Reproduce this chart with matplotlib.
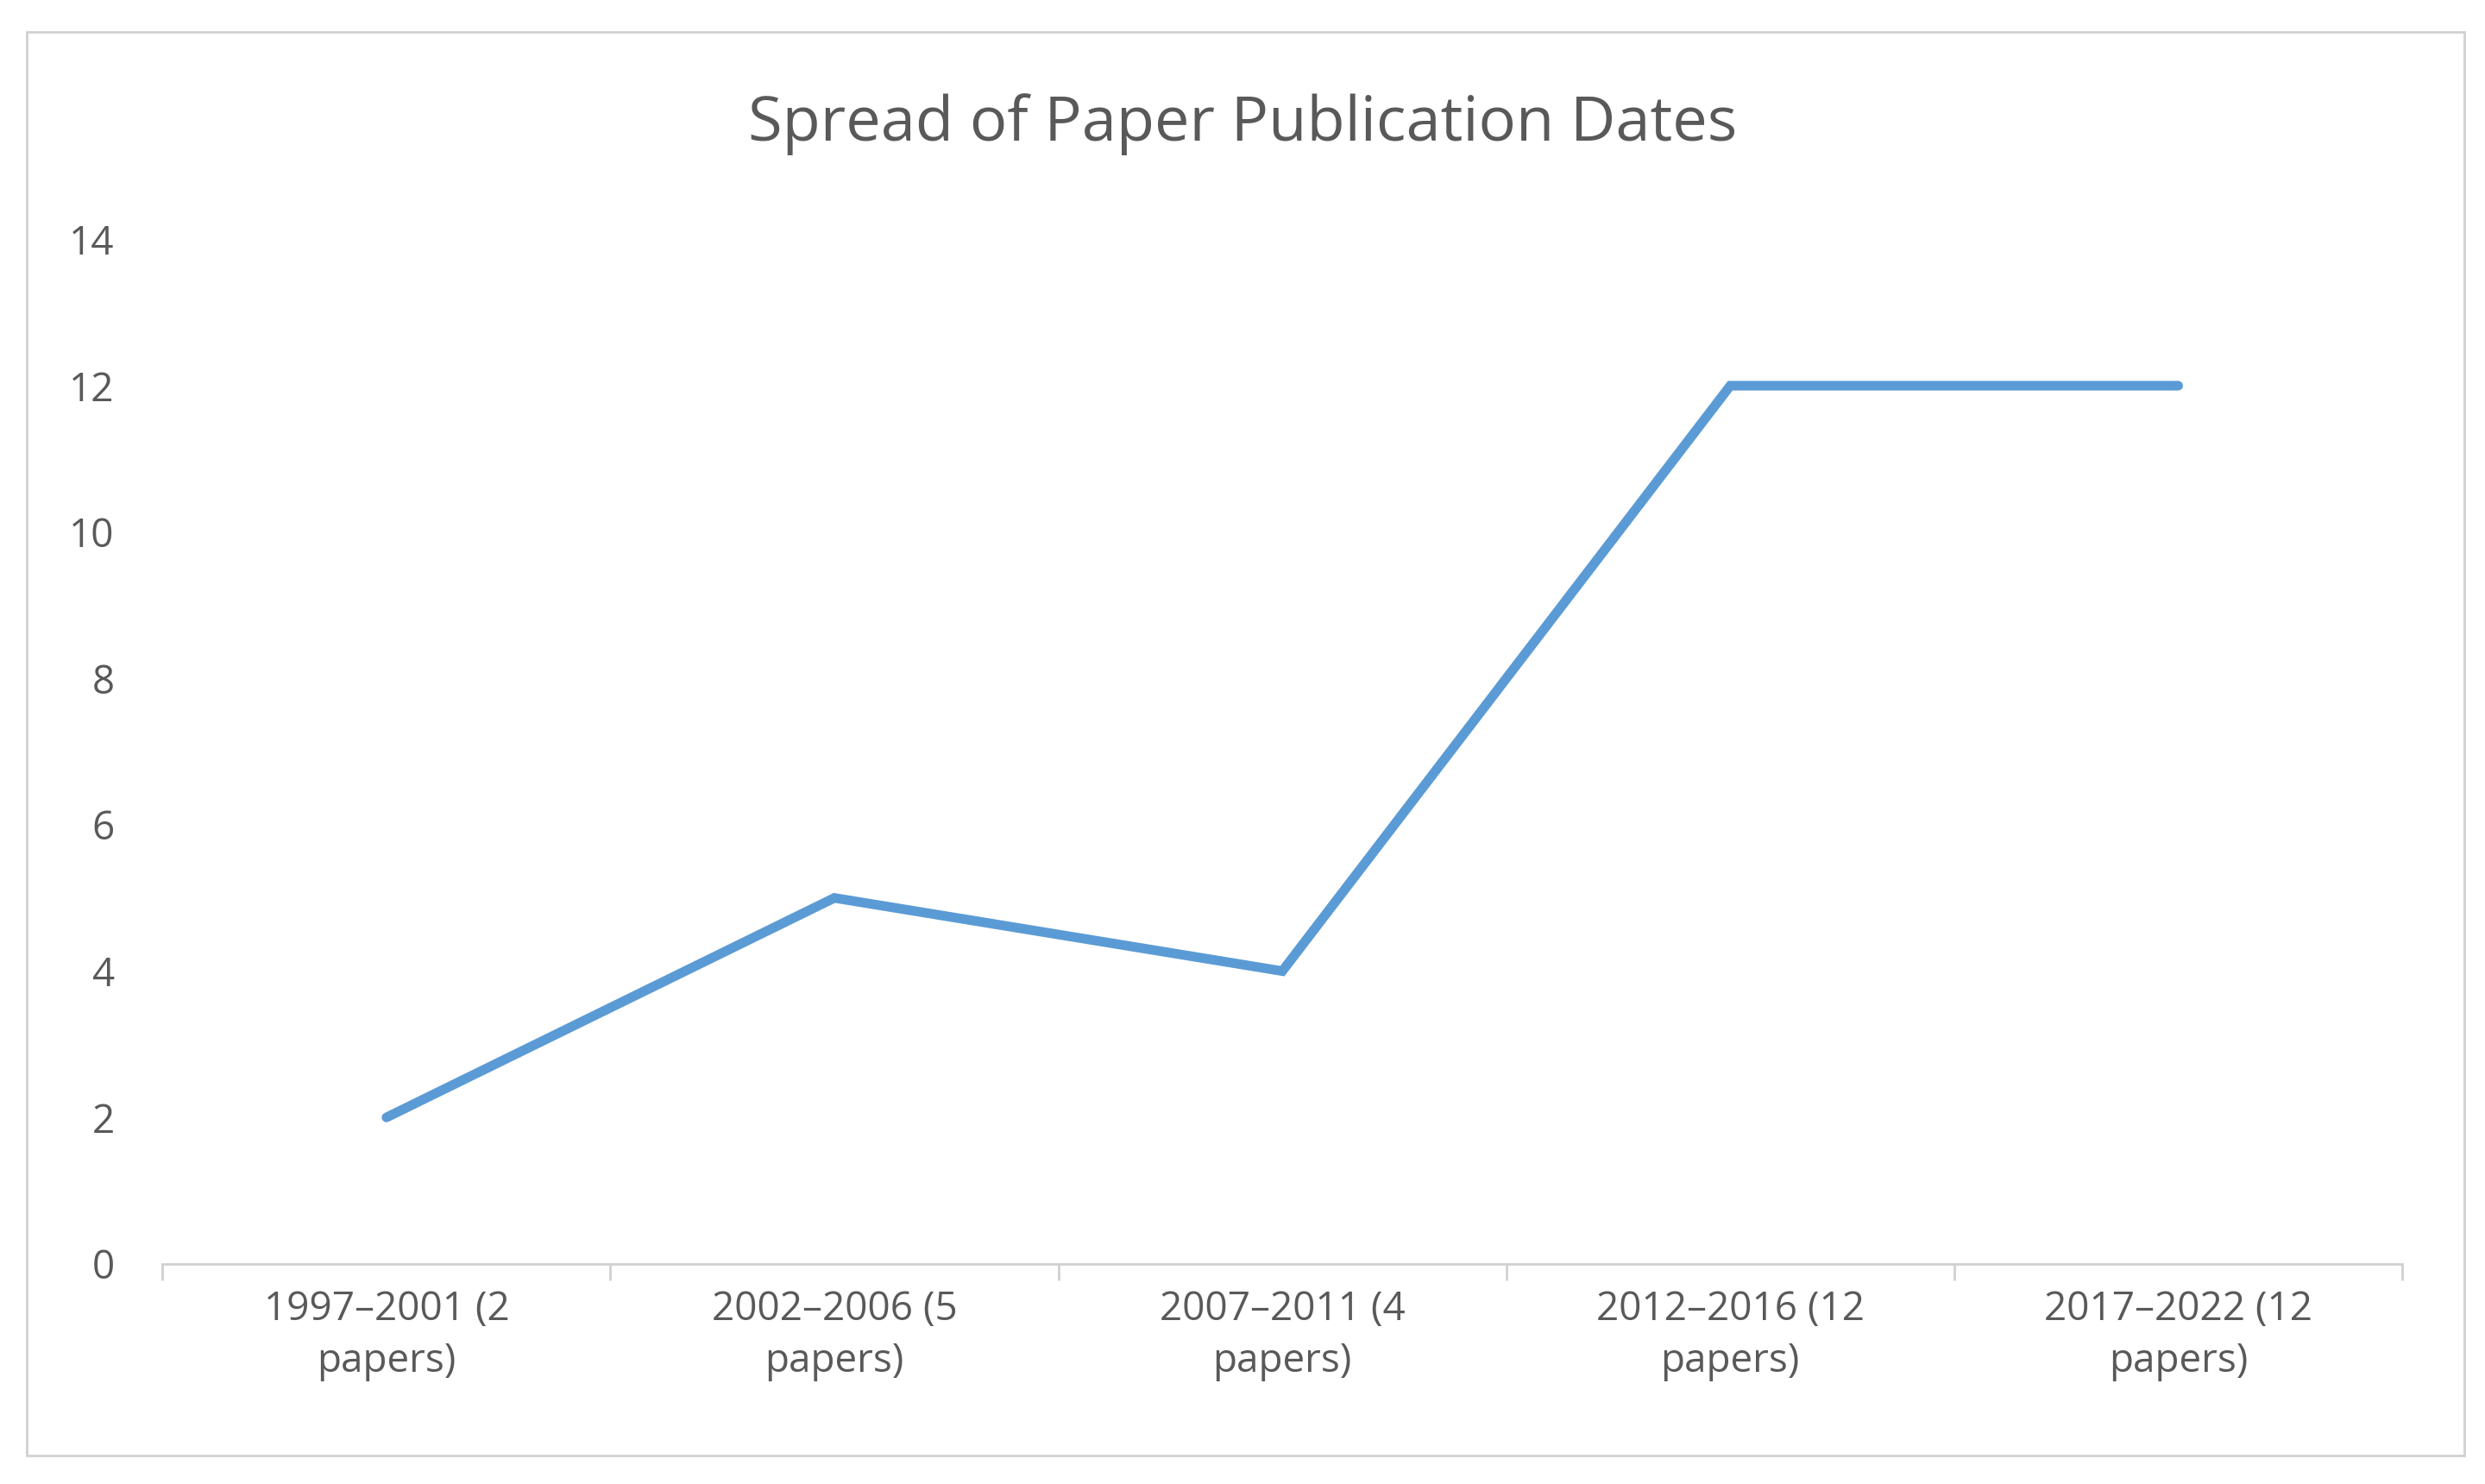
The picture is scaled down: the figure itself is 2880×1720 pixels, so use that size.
import matplotlib
matplotlib.use("Agg")
import matplotlib.pyplot as plt
from matplotlib.patches import Rectangle

categories = ["1997–2001 (2\npapers)", "2002–2006 (5\npapers)", "2007–2011 (4\npapers)",
              "2012–2016 (12\npapers)", "2017–2022 (12\npapers)"]
values = [2, 5, 4, 12, 12]
yticks = [0, 2, 4, 6, 8, 10, 12, 14]

plt.rcParams['font.family'] = ['Open Sans', 'DejaVu Sans']
tc = '#595959'
fig = plt.figure(figsize=(28.8, 17.2), dpi=100)
fig.patches.append(Rectangle((17/1560, 1-912/930), 1530/1560, 892/930, transform=fig.transFigure,
                             fill=False, edgecolor='#d0d0d0', linewidth=2))
ax = fig.add_axes([102/1560, 1-792/930, 1406/1560, 642/930])
x = list(range(len(values)))
ax.plot(x, values, color='#5B9BD5', linewidth=8, solid_capstyle='round', solid_joinstyle='miter')
ax.set_xlim(-0.5, len(values)-0.5)
ax.set_ylim(0, 14)
ax.set_yticks(yticks)
ax.set_xticks(x)
ax.set_xticklabels(categories, color=tc, fontsize=33, linespacing=1.4)
ax.set_xticks([i-0.5 for i in range(len(values)+1)], minor=True)
ax.tick_params(axis='x', which='major', length=0, pad=22)
ax.tick_params(axis='x', which='minor', length=14, width=2, color='#d0d0d0', direction='out')
ax.tick_params(axis='y', length=0, labelsize=33, labelcolor=tc, pad=40)
for s in ['top', 'right', 'left']:
    ax.spines[s].set_visible(False)
ax.spines['bottom'].set_color('#d0d0d0')
ax.spines['bottom'].set_linewidth(2)
fig.text(0.5, 1-78/930, "Spread of Paper Publication Dates", ha='center', va='center',
         fontsize=52, color=tc)
fig.savefig("out.png", dpi=100, facecolor='white')
